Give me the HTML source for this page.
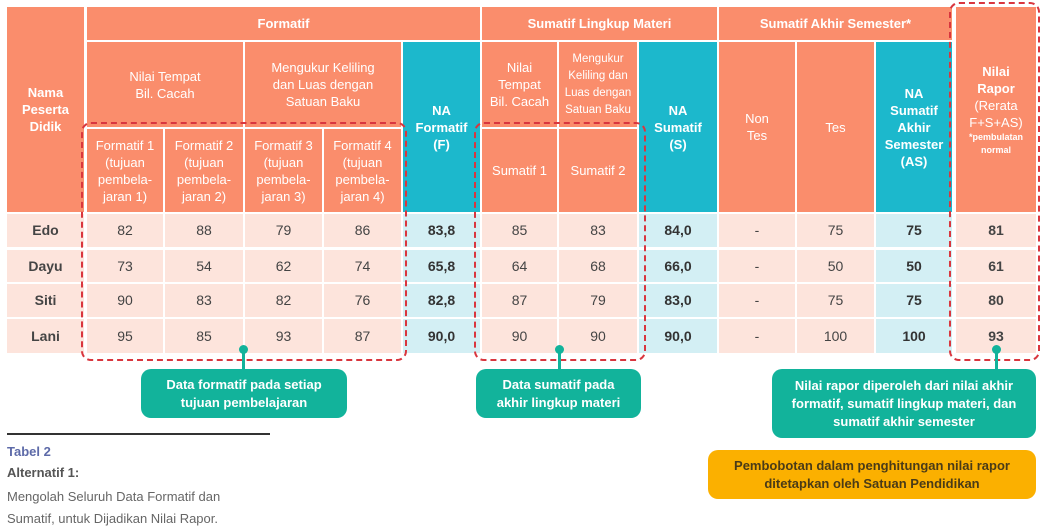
<!DOCTYPE html>
<html><head><meta charset="utf-8">
<style>
body{margin:0;width:1045px;height:530px;background:#fff;position:relative;overflow:hidden;font-family:"Liberation Sans",sans-serif}
.c{position:absolute;box-sizing:border-box;display:flex;align-items:center;justify-content:center;text-align:center;color:#fff;font-size:13px;line-height:17px}
.o{background:#fa8d6c}
.t{background:#1cb8cc}
.b{font-weight:bold}
.d{background:#fde4dc;color:#444;font-size:14px}
.dn{background:#d3eff4;color:#333;font-size:14px;font-weight:bold}
.dash{position:absolute;border:2px dashed #d9363e;border-radius:10px;box-sizing:border-box;pointer-events:none}
.call{position:absolute;background:#12b39b;color:#fff;font-weight:bold;font-size:13px;line-height:18px;border-radius:10px;display:flex;align-items:center;justify-content:center;text-align:center;box-sizing:border-box}
.dot{position:absolute;width:9px;height:9px;border-radius:50%;background:#12b39b}
.stem{position:absolute;width:3px;background:#12b39b}
</style></head><body>
<div id="tbl"></div>

<div class="dash" style="left:81px;top:122px;width:326px;height:239px"></div>
<div class="dash" style="left:474px;top:122px;width:172px;height:239px"></div>
<div class="dash" style="left:949px;top:2px;width:91px;height:359px"></div>

<div class="stem" style="left:242px;top:350px;height:20px"></div><div class="dot" style="left:239px;top:345px"></div>
<div class="call" style="left:141px;top:369px;width:206px;height:49px">Data formatif pada setiap<br>tujuan pembelajaran</div>
<div class="stem" style="left:558px;top:350px;height:20px"></div><div class="dot" style="left:555px;top:345px"></div>
<div class="call" style="left:476px;top:369px;width:165px;height:49px">Data sumatif pada<br>akhir lingkup materi</div>
<div class="stem" style="left:995px;top:350px;height:20px"></div><div class="dot" style="left:992px;top:345px"></div>
<div class="call" style="left:772px;top:369px;width:264px;height:69px">Nilai rapor diperoleh dari nilai akhir<br>formatif, sumatif lingkup materi, dan<br>sumatif akhir semester</div>
<div class="call" style="left:708px;top:450px;width:328px;height:49px;background:#fbb000;color:#4a3b17">Pembobotan dalam penghitungan nilai rapor<br>ditetapkan oleh Satuan Pendidikan</div>

<div style="position:absolute;left:7px;top:433px;width:263px;height:2px;background:#333"></div>
<div style="position:absolute;left:7px;top:444px;font-size:13px;font-weight:bold;color:#5d6aa8">Tabel 2</div>
<div style="position:absolute;left:7px;top:465px;font-size:13px;font-weight:bold;color:#555">Alternatif 1:</div>
<div style="position:absolute;left:7px;top:486px;font-size:13px;line-height:22px;color:#666">Mengolah Seluruh Data Formatif dan<br>Sumatif, untuk Dijadikan Nilai Rapor.</div>

<script>
const students=["Edo","Dayu","Siti","Lani"];
const formatif1=["82","73","90","95"];
const formatif2=["88","54","83","85"];
const formatif3=["79","62","82","93"];
const formatif4=["86","74","76","87"];
const naFormatif=["83,8","65,8","82,8","90,0"];
const sumatif1=["85","64","87","90"];
const sumatif2=["83","68","79","90"];
const naSumatif=["84,0","66,0","83,0","90,0"];
const nonTes=["-","-","-","-"];
const tes=["75","50","75","100"];
const naAS=["75","50","75","100"];
const rapor=["81","61","80","93"];

const colX=[[7,84],[87,163],[165,243],[245,322],[324,401],[403,480],[482,557],[559,637],[639,717],[719,795],[797,874],[876,952],[956,1036]];
const rowY=[[214,247],[250,282],[284,317],[319,353]];
const cols=[students,formatif1,formatif2,formatif3,formatif4,naFormatif,sumatif1,sumatif2,naSumatif,nonTes,tes,naAS,rapor];
const colKind=["name","d","d","d","d","na","d","d","na","d","d","na","bold"];
const tbl=document.getElementById('tbl');
function cell(x0,x1,y0,y1,cls,html,name){
  const e=document.createElement('div');
  e.className='c '+cls;
  e.style.left=x0+'px';e.style.top=y0+'px';e.style.width=(x1-x0)+'px';e.style.height=(y1-y0)+'px';
  e.innerHTML=html;
  
  
  tbl.appendChild(e);
}
// headers
cell(7,84,7,212,'o b','Nama<br>Peserta<br>Didik','header-name');
cell(87,480,7,40,'o b','Formatif','header-formatif');
cell(482,717,7,40,'o b','Sumatif Lingkup Materi','header-sumatif-lingkup');
cell(719,952,7,40,'o b','Sumatif Akhir Semester*','header-sumatif-akhir');
cell(956,1036,7,212,'o','<div><b>Nilai<br>Rapor</b><br>(Rerata<br>F+S+AS)<br><b style="font-size:9px;line-height:13px;display:block">*pembulatan<br>normal</b></div>','header-rapor');
cell(87,243,42,127,'o','Nilai Tempat<br>Bil. Cacah','header-nilai-tempat');
cell(245,401,42,127,'o','Mengukur Keliling<br>dan Luas dengan<br>Satuan Baku','header-keliling');
cell(403,480,42,212,'t b','NA<br>Formatif<br>(F)','header-na-formatif');
cell(482,557,42,127,'o','Nilai<br>Tempat<br>Bil. Cacah','header-nilai-tempat-s');
cell(559,637,42,127,'o','<span style="font-size:11.5px;line-height:17px">Mengukur<br>Keliling dan<br>Luas dengan<br>Satuan Baku</span>','header-keliling-s');
cell(639,717,42,212,'t b','NA<br>Sumatif<br>(S)','header-na-sumatif');
cell(719,795,42,212,'o','Non<br>Tes','header-non-tes');
cell(797,874,42,212,'o','Tes','header-tes');
cell(876,952,42,212,'t b','NA<br>Sumatif<br>Akhir<br>Semester<br>(AS)','header-na-as');
for(let i=1;i<=4;i++){
  cell(colX[i][0],colX[i][1],129,212,'o','Formatif '+i+'<br>(tujuan<br>pembela-<br>jaran '+i+')','header-formatif-'+i);
}
cell(482,557,129,212,'o','Sumatif 1','header-sumatif-1');
cell(559,637,129,212,'o','Sumatif 2','header-sumatif-2');
// data
for(let r=0;r<students.length;r++){
  for(let c=0;c<cols.length;c++){
    const k=colKind[c];
    const cls=k==='na'?'dn':(k==='name'||k==='bold'?'d b':'d');
    cell(colX[c][0],colX[c][1],rowY[r][0],rowY[r][1],cls,cols[c][r],'cell-'+students[r].toLowerCase()+'-'+c);
  }
}
</script>
</body></html>
